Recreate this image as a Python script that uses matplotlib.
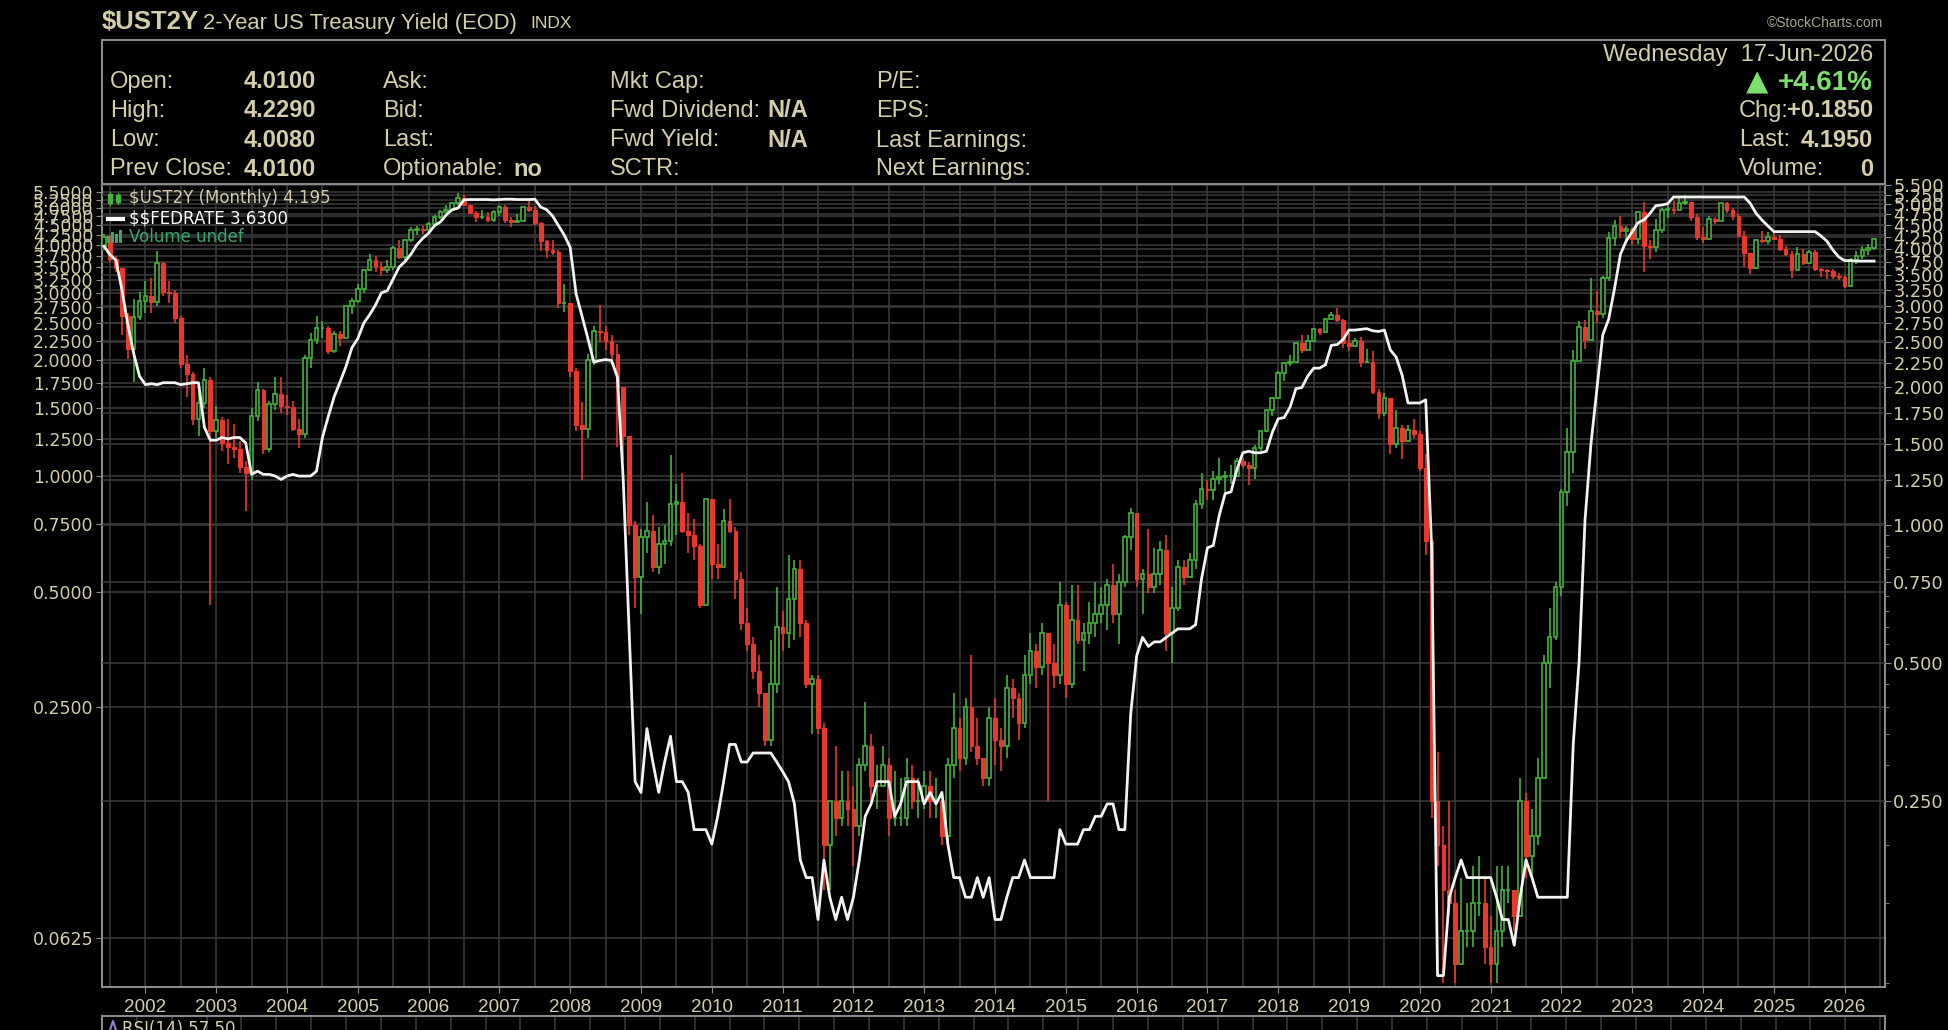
import numpy as np
import pandas as pd
import matplotlib
matplotlib.use("Agg")
import matplotlib.pyplot as plt
from matplotlib.patches import Rectangle
from matplotlib.lines import Line2D
from matplotlib.ticker import FixedLocator, NullLocator, NullFormatter

# ---- data: monthly $UST2Y candles and $$FEDRATE, Jun 2001 .. Jun 2026 ----
first_open = 4.05
ust_close = [
    4.24, 3.79, 3.63, 2.85, 2.42, 2.84, 3.07,                          # 2001 Jun-Dec
    3.16, 3.06, 3.72, 3.22, 3.21, 2.82, 2.24, 2.13, 1.70, 1.84, 2.07, 1.60,  # 2002
    1.69, 1.51, 1.48, 1.46, 1.34, 1.30, 1.73, 1.97, 1.46, 1.83, 1.93, 1.82,  # 2003
    1.81, 1.62, 1.58, 2.31, 2.53, 2.68, 2.69, 2.39, 2.61, 2.55, 3.00, 3.07,  # 2004
    3.27, 3.60, 3.78, 3.65, 3.59, 3.65, 4.02, 3.83, 4.18, 4.40, 4.42, 4.40,  # 2005
    4.54, 4.69, 4.82, 4.87, 5.03, 5.16, 4.97, 4.78, 4.69, 4.70, 4.62, 4.82,  # 2006
    4.93, 4.62, 4.58, 4.60, 4.92, 4.87, 4.56, 4.15, 3.97, 3.94, 3.05, 3.05,  # 2007
    2.16, 1.65, 1.62, 2.29, 2.65, 2.63, 2.52, 2.36, 2.00, 1.56, 1.00, 0.77,  # 2008
    0.94, 0.97, 0.81, 0.91, 0.92, 1.11, 1.12, 0.97, 0.95, 0.90, 0.67, 1.14,  # 2009
    0.82, 0.81, 1.02, 0.97, 0.76, 0.61, 0.55, 0.48, 0.43, 0.34, 0.45, 0.60,  # 2010
    0.58, 0.69, 0.80, 0.61, 0.45, 0.46, 0.36, 0.20, 0.25, 0.23, 0.25, 0.24,  # 2011
    0.22, 0.30, 0.33, 0.27, 0.27, 0.30, 0.23, 0.23, 0.23, 0.28, 0.25, 0.25,  # 2012
    0.27, 0.25, 0.25, 0.21, 0.30, 0.36, 0.31, 0.40, 0.33, 0.31, 0.28, 0.38,  # 2013
    0.34, 0.33, 0.44, 0.42, 0.37, 0.47, 0.53, 0.49, 0.58, 0.50, 0.47, 0.67,  # 2014
    0.45, 0.62, 0.56, 0.58, 0.61, 0.64, 0.67, 0.74, 0.64, 0.75, 0.94, 1.06,  # 2015
    0.76, 0.78, 0.73, 0.78, 0.88, 0.58, 0.66, 0.81, 0.77, 0.84, 1.11, 1.20,  # 2016
    1.19, 1.26, 1.27, 1.28, 1.28, 1.38, 1.35, 1.33, 1.47, 1.60, 1.78, 1.89,  # 2017
    2.14, 2.25, 2.27, 2.49, 2.40, 2.52, 2.67, 2.63, 2.81, 2.87, 2.80, 2.49,  # 2018
    2.46, 2.52, 2.27, 2.27, 1.95, 1.75, 1.89, 1.50, 1.63, 1.52, 1.61, 1.58,  # 2019
    1.33, 0.92, 0.25, 0.20, 0.16, 0.15, 0.11, 0.13, 0.13, 0.15, 0.15, 0.12,  # 2020
    0.11, 0.13, 0.16, 0.16, 0.14, 0.25, 0.19, 0.21, 0.28, 0.50, 0.57, 0.73,  # 2021
    1.18, 1.44, 2.28, 2.70, 2.53, 2.92, 2.88, 3.45, 4.22, 4.48, 4.38, 4.41,  # 2022
    4.21, 4.81, 4.06, 4.04, 4.40, 4.87, 4.88, 4.86, 5.03, 5.07, 4.68, 4.25,  # 2023
    4.21, 4.64, 4.59, 5.04, 4.87, 4.71, 4.26, 3.91, 3.64, 4.17, 4.15, 4.24,  # 2024
    4.20, 3.99, 3.89, 3.60, 3.90, 3.72, 3.94, 3.62, 3.60, 3.57, 3.49, 3.47,  # 2025
    3.32, 3.78, 3.86, 3.97, 4.01, 4.195,                               # 2026 Jan-Jun
]
ust_high = [
    4.30, 4.28, 3.86, 3.64, 2.90, 3.10, 3.22,
    3.40, 3.45, 3.95, 3.75, 3.40, 3.25, 2.85, 2.35, 2.15, 2.00, 2.20, 2.10,
    1.82, 1.72, 1.70, 1.66, 1.52, 1.38, 1.80, 2.05, 1.98, 1.86, 2.10, 2.10,
    1.92, 1.86, 1.70, 2.35, 2.62, 2.85, 2.78, 2.72, 2.65, 2.65, 3.00, 3.12,
    3.35, 3.62, 3.90, 3.85, 3.75, 3.78, 4.05, 4.18, 4.21, 4.45, 4.48, 4.48,
    4.58, 4.74, 4.85, 4.97, 5.05, 5.28, 5.23, 4.97, 4.83, 4.85, 4.80, 4.85,
    4.98, 4.97, 4.68, 4.75, 4.94, 5.12, 4.96, 4.58, 4.18, 4.18, 3.98, 3.35,
    3.05, 2.20, 1.85, 2.36, 2.72, 3.02, 2.71, 2.60, 2.48, 1.94, 1.56, 1.02,
    0.98, 1.12, 1.05, 0.99, 1.00, 1.42, 1.23, 1.30, 1.06, 1.03, 0.91, 1.14,
    1.14, 0.91, 1.08, 1.14, 0.99, 0.79, 0.66, 0.57, 0.52, 0.43, 0.56, 0.73,
    0.65, 0.86, 0.84, 0.84, 0.62, 0.47, 0.47, 0.37, 0.25, 0.33, 0.29, 0.29,
    0.27, 0.31, 0.41, 0.35, 0.30, 0.33, 0.31, 0.29, 0.28, 0.31, 0.30, 0.28,
    0.29, 0.29, 0.28, 0.25, 0.31, 0.43, 0.38, 0.42, 0.52, 0.38, 0.31, 0.40,
    0.42, 0.36, 0.47, 0.46, 0.43, 0.52, 0.58, 0.55, 0.61, 0.58, 0.55, 0.75,
    0.68, 0.74, 0.74, 0.61, 0.68, 0.75, 0.73, 0.76, 0.82, 0.78, 0.95, 1.09,
    1.06, 0.80, 0.98, 0.89, 0.92, 0.95, 0.73, 0.84, 0.84, 0.87, 1.13, 1.30,
    1.25, 1.31, 1.40, 1.31, 1.35, 1.40, 1.40, 1.37, 1.49, 1.61, 1.78, 1.90,
    2.16, 2.26, 2.35, 2.50, 2.59, 2.59, 2.69, 2.68, 2.83, 2.91, 2.97, 2.81,
    2.62, 2.56, 2.57, 2.42, 2.39, 1.98, 1.94, 1.89, 1.78, 1.65, 1.65, 1.70,
    1.60, 1.43, 0.93, 0.32, 0.22, 0.25, 0.16, 0.17, 0.15, 0.18, 0.19, 0.17,
    0.14, 0.18, 0.18, 0.18, 0.16, 0.28, 0.26, 0.24, 0.31, 0.52, 0.66, 0.75,
    1.20, 1.63, 2.40, 2.78, 2.80, 3.45, 3.23, 3.49, 4.34, 4.62, 4.72, 4.48,
    4.47, 4.83, 5.07, 4.17, 4.64, 4.90, 4.99, 5.08, 5.15, 5.23, 5.07, 4.75,
    4.45, 4.72, 4.70, 5.04, 5.05, 4.90, 4.76, 4.38, 3.87, 4.19, 4.37, 4.36,
    4.37, 4.28, 4.06, 3.96, 4.04, 4.00, 3.97, 3.98, 3.64, 3.62, 3.62, 3.54,
    3.50, 3.82, 3.95, 4.05, 4.10, 4.229,
]
ust_low = [
    3.98, 3.75, 3.55, 2.60, 2.30, 2.05, 2.80,
    2.90, 2.90, 3.00, 3.15, 3.05, 2.75, 2.20, 1.90, 1.65, 1.56, 1.80, 0.67,
    1.55, 1.45, 1.36, 1.40, 1.30, 1.07, 1.25, 1.68, 1.43, 1.44, 1.78, 1.75,
    1.74, 1.60, 1.47, 1.55, 2.20, 2.48, 2.55, 2.36, 2.37, 2.45, 2.55, 2.88,
    3.05, 3.20, 3.58, 3.56, 3.48, 3.54, 3.60, 3.80, 3.77, 4.13, 4.29, 4.30,
    4.34, 4.52, 4.64, 4.81, 4.85, 4.99, 4.95, 4.76, 4.58, 4.65, 4.58, 4.58,
    4.72, 4.56, 4.47, 4.56, 4.57, 4.80, 4.51, 3.95, 3.81, 3.88, 2.97, 2.91,
    2.10, 1.60, 1.25, 1.55, 2.23, 2.50, 2.40, 2.30, 1.48, 1.38, 0.95, 0.66,
    0.64, 0.87, 0.79, 0.78, 0.82, 0.90, 0.95, 0.96, 0.87, 0.84, 0.66, 0.67,
    0.76, 0.76, 0.81, 0.96, 0.69, 0.59, 0.53, 0.46, 0.40, 0.33, 0.33, 0.43,
    0.53, 0.54, 0.56, 0.57, 0.44, 0.35, 0.35, 0.16, 0.16, 0.21, 0.22, 0.22,
    0.18, 0.21, 0.29, 0.25, 0.24, 0.27, 0.21, 0.22, 0.22, 0.22, 0.24, 0.23,
    0.24, 0.23, 0.23, 0.20, 0.20, 0.28, 0.29, 0.30, 0.32, 0.30, 0.27, 0.27,
    0.30, 0.29, 0.31, 0.38, 0.34, 0.36, 0.45, 0.44, 0.47, 0.25, 0.44, 0.45,
    0.42, 0.44, 0.55, 0.48, 0.55, 0.57, 0.61, 0.59, 0.61, 0.55, 0.73, 0.88,
    0.73, 0.64, 0.71, 0.71, 0.74, 0.53, 0.50, 0.65, 0.74, 0.77, 0.80, 1.08,
    1.13, 1.13, 1.23, 1.16, 1.23, 1.27, 1.33, 1.22, 1.26, 1.45, 1.59, 1.73,
    1.88, 2.06, 2.22, 2.26, 2.37, 2.42, 2.52, 2.59, 2.62, 2.79, 2.77, 2.43,
    2.39, 2.44, 2.21, 2.25, 1.93, 1.70, 1.73, 1.43, 1.47, 1.39, 1.53, 1.55,
    1.31, 0.86, 0.23, 0.18, 0.10, 0.14, 0.10, 0.11, 0.12, 0.12, 0.14, 0.11,
    0.10, 0.10, 0.12, 0.15, 0.13, 0.14, 0.17, 0.17, 0.20, 0.28, 0.44, 0.56,
    0.70, 1.10, 1.30, 2.32, 2.42, 2.53, 2.75, 2.83, 3.41, 4.05, 4.23, 4.12,
    4.07, 4.09, 3.55, 3.80, 3.94, 4.33, 4.66, 4.76, 4.85, 4.98, 4.59, 4.18,
    4.11, 4.20, 4.52, 4.59, 4.78, 4.63, 4.24, 3.65, 3.53, 3.62, 4.11, 4.10,
    4.19, 3.95, 3.85, 3.46, 3.59, 3.69, 3.71, 3.58, 3.47, 3.44, 3.43, 3.42,
    3.28, 3.30, 3.70, 3.80, 3.88, 3.98,
]
fed_rate = [
    3.97, 3.77, 3.65, 3.07, 2.49, 2.09, 1.82,
    1.73, 1.74, 1.73, 1.75, 1.75, 1.75, 1.73, 1.74, 1.75, 1.75, 1.34, 1.24,
    1.24, 1.26, 1.25, 1.26, 1.26, 1.22, 1.01, 1.03, 1.01, 1.01, 1.00, 0.98,
    1.00, 1.01, 1.00, 1.00, 1.00, 1.03, 1.26, 1.43, 1.61, 1.76, 1.93, 2.16,
    2.28, 2.50, 2.63, 2.79, 3.00, 3.04, 3.26, 3.50, 3.62, 3.78, 4.00, 4.16,
    4.29, 4.49, 4.59, 4.79, 4.94, 4.99, 5.24, 5.25, 5.25, 5.25, 5.25, 5.24,
    5.25, 5.26, 5.26, 5.25, 5.25, 5.25, 5.26, 5.02, 4.94, 4.76, 4.49, 4.24,
    3.94, 2.98, 2.61, 2.28, 1.98, 2.00, 2.01, 2.00, 1.81, 0.97, 0.39, 0.16,
    0.15, 0.22, 0.18, 0.15, 0.18, 0.21, 0.16, 0.16, 0.15, 0.12, 0.12, 0.12,
    0.11, 0.13, 0.16, 0.20, 0.20, 0.18, 0.18, 0.19, 0.19, 0.19, 0.19, 0.18,
    0.17, 0.16, 0.14, 0.10, 0.09, 0.09, 0.07, 0.10, 0.08, 0.07, 0.08, 0.07,
    0.08, 0.10, 0.13, 0.14, 0.16, 0.16, 0.16, 0.13, 0.14, 0.16, 0.16, 0.16,
    0.14, 0.15, 0.14, 0.15, 0.11, 0.09, 0.09, 0.08, 0.08, 0.09, 0.08, 0.09,
    0.07, 0.07, 0.08, 0.09, 0.09, 0.10, 0.09, 0.09, 0.09, 0.09, 0.09, 0.12,
    0.11, 0.11, 0.11, 0.12, 0.12, 0.13, 0.13, 0.14, 0.14, 0.12, 0.12, 0.24,
    0.34, 0.38, 0.36, 0.37, 0.37, 0.38, 0.39, 0.40, 0.40, 0.40, 0.41, 0.54,
    0.65, 0.66, 0.79, 0.90, 0.91, 1.04, 1.15, 1.16, 1.15, 1.15, 1.16, 1.30,
    1.41, 1.42, 1.51, 1.69, 1.70, 1.82, 1.91, 1.91, 1.95, 2.19, 2.20, 2.27,
    2.40, 2.40, 2.41, 2.42, 2.39, 2.38, 2.40, 2.13, 2.04, 1.83, 1.55, 1.55,
    1.55, 1.58, 0.65, 0.05, 0.05, 0.08, 0.09, 0.10, 0.09, 0.09, 0.09, 0.09,
    0.09, 0.08, 0.07, 0.07, 0.06, 0.08, 0.10, 0.09, 0.08, 0.08, 0.08, 0.08,
    0.08, 0.08, 0.20, 0.33, 0.77, 1.21, 1.68, 2.33, 2.56, 3.08, 3.78, 4.10,
    4.33, 4.57, 4.65, 4.83, 5.06, 5.08, 5.12, 5.33, 5.33, 5.33, 5.33, 5.33,
    5.33, 5.33, 5.33, 5.33, 5.33, 5.33, 5.33, 5.33, 5.13, 4.83, 4.64, 4.48,
    4.33, 4.33, 4.33, 4.33, 4.33, 4.33, 4.33, 4.33, 4.22, 4.09, 3.88, 3.72,
    3.64, 3.64, 3.63, 3.63, 3.63, 3.63,
]

left_ticks = [5.5, 5.25, 5.0, 4.75, 4.5, 4.25, 4.0, 3.75, 3.5, 3.25, 3.0, 2.75,
              2.5, 2.25, 2.0, 1.75, 1.5, 1.25, 1.0, 0.75, 0.5, 0.25, 0.0625]
right_ticks = [5.5, 5.25, 5.0, 4.75, 4.5, 4.25, 4.0, 3.75, 3.5, 3.25, 3.0, 2.75,
               2.5, 2.25, 2.0, 1.75, 1.5, 1.25, 1.0, 0.75, 0.5, 0.25]
year_ticks = list(range(2002, 2027))

# ---- colours / fonts ----
TAN = '#d3cea9'
GRID = '#3b3b3b'
FRAME = '#8a8a8a'
GREEN = '#46b13c'
RED = '#e8392c'
SANS = ['Liberation Sans', 'DejaVu Sans']
WIDE = ['DejaVu Sans']

W, H = 1949.0, 1030.0
fig = plt.figure(figsize=(W / 100, H / 100), dpi=100, facecolor='black')


def fx(x):
    return x / W


def fy(y):
    return 1 - y / H


def txt(x, y, s, size=17, color=TAN, weight='normal', ha='left', family=SANS):
    fig.text(fx(x), fy(y), s, fontsize=size, color=color, fontweight=weight,
             ha=ha, va='center', family=family, parse_math=False)


L, R, T, B = 102, 1885, 183.5, 987
rect = [fx(L), fy(B), (R - L) / W, (B - T) / H]
x0, x1 = 2001.387, 2026.57

months = pd.date_range('2001-06-01', periods=len(ust_close), freq='MS')
xs = np.array([d.year + (d.month - 1) / 12 for d in months])
c = np.array(ust_close)
o = np.array([first_open] + ust_close[:-1])
hi = np.array(ust_high)
lo = np.array(ust_low)

# base axes: grid + left (FEDRATE) scale
ax = fig.add_axes(rect)
ax.set_facecolor('black')
ax.set_yscale('log')
ax.set_ylim(0.0467, 5.78)
ax.set_xlim(x0, x1)
ax.yaxis.set_major_locator(FixedLocator(left_ticks))
ax.yaxis.set_minor_locator(NullLocator())
ax.set_yticklabels(['%.4f' % v for v in left_ticks])
ax.set_xticks(year_ticks)
ax.set_xticklabels([str(y) for y in year_ticks])
ax.set_xticks([y + 0.5 for y in range(2001, 2027)], minor=True)
ax.grid(True, which='both', color=GRID, lw=1.1)
ax.set_axisbelow(True)
ax.tick_params(axis='y', colors=FRAME, labelcolor=TAN, labelsize=12.5, length=4, pad=2)
ax.tick_params(axis='x', which='major', colors=FRAME, labelcolor=TAN, labelsize=13.6,
               length=4, pad=5)
ax.tick_params(axis='x', which='minor', length=0)
for lab in ax.get_yticklabels():
    lab.set_family(WIDE)
for lab in ax.get_xticklabels():
    lab.set_family(SANS)
for sp in ax.spines.values():
    sp.set_color(FRAME)
    sp.set_linewidth(1.5)

# candles on right scale
axc = ax.twinx()
axc.set_yscale('log')
axc.set_ylim(0.0982, 5.55)
axc.set_xlim(x0, x1)
axc.yaxis.set_major_locator(FixedLocator(right_ticks))
axc.yaxis.set_minor_locator(FixedLocator([0.1, 0.15, 0.2, 0.3, 0.35, 0.4, 0.45, 0.55, 0.6,
                                          0.65, 0.7, 0.8, 0.85, 0.9, 0.95]))
axc.yaxis.set_minor_formatter(NullFormatter())
axc.set_yticklabels(['%.3f' % v for v in right_ticks])
axc.tick_params(axis='y', which='major', colors=FRAME, labelcolor=TAN, labelsize=12.8,
                length=4, pad=2)
axc.tick_params(axis='y', which='minor', colors=FRAME, length=3)
axc.grid(True, axis='y', which='major', color=GRID, lw=1.1)
axc.set_axisbelow(True)
for lab in axc.get_yticklabels():
    lab.set_family(WIDE)
for sp in axc.spines.values():
    sp.set_visible(False)

up = c >= o
bw = 0.052
axc.vlines(xs[up], lo[up], hi[up], color=GREEN, lw=1.2, zorder=2)
axc.vlines(xs[~up], lo[~up], hi[~up], color=RED, lw=1.2, zorder=2)
bot = np.minimum(o, c)
top = np.maximum(o, c)
axc.bar(xs[up], top[up] - bot[up], bottom=bot[up], width=bw, facecolor='black',
        edgecolor=GREEN, lw=1.2, zorder=3)
axc.bar(xs[~up], top[~up] - bot[~up], bottom=bot[~up], width=bw, facecolor=RED,
        edgecolor=RED, lw=0.8, zorder=3)

# FEDRATE line on left scale, on top
axw = ax.twinx()
axw.set_yscale('log')
axw.set_ylim(0.0467, 5.78)
axw.set_xlim(x0, x1)
axw.axis('off')
axw.plot(xs, fed_rate, color='#f2f2f2', lw=2.0, solid_joinstyle='round', zorder=4)

# ---- header ----
fig.add_artist(Rectangle((fx(L), fy(T)), (R - L) / W, (T - 40) / H, transform=fig.transFigure,
                         fill=False, edgecolor=FRAME, lw=1.5))
txt(102, 22, '$UST2Y', size=18.5, weight='bold')
txt(203, 23, '2-Year US Treasury Yield (EOD)', size=15.8)
txt(530, 24, 'INDX', size=12.5)
txt(1883, 23, '\u00a9StockCharts.com', size=10, color='#a9a690', ha='right')

rows = [82, 110.6, 140.5, 169]
for y, lab in zip(rows, ['Open:', 'High:', 'Low:', 'Prev Close:']):
    txt(110, y, lab)
for y, val in zip(rows, ['4.0100', '4.2290', '4.0080', '4.0100']):
    txt(316, y, val, weight='bold', ha='right')
for y, lab in zip(rows, ['Ask:', 'Bid:', 'Last:', 'Optionable:']):
    txt(383, y, lab)
txt(513, rows[3], 'no', weight='bold')
for y, lab in zip(rows, ['Mkt Cap:', 'Fwd Dividend:', 'Fwd Yield:', 'SCTR:']):
    txt(610, y, lab)
txt(808, rows[1], 'N/A', weight='bold', ha='right')
txt(808, rows[2], 'N/A', weight='bold', ha='right')
for y, lab in zip(rows, ['P/E:', 'EPS:', 'Last Earnings:', 'Next Earnings:']):
    txt(876, y, lab)

txt(1873, 55, 'Wednesday  17-Jun-2026', ha='right')
txt(1873, 83, '+4.61%', size=20, weight='bold', color='#7ddf6e', ha='right')
txt(1757, 82, '\u25b2', size=21, color='#7ddf6e', ha='center', family=WIDE)
txt(1739, rows[1], 'Chg:')
txt(1873, rows[1], '+0.1850', weight='bold', ha='right')
txt(1739, rows[2], 'Last:')
txt(1873, rows[2], '4.1950', weight='bold', ha='right')
txt(1739, rows[3], 'Volume:')
txt(1873, rows[3], '0', weight='bold', ha='right')

# ---- in-chart legend ----
ly = [198, 219, 237]
for bx, h in [(110, 9), (118, 7)]:
    fig.add_artist(Line2D([fx(bx), fx(bx)], [fy(ly[0] - h / 2 - 2), fy(ly[0] + h / 2 + 2)],
                          transform=fig.transFigure, color=GREEN, lw=1))
    fig.add_artist(Rectangle((fx(bx - 2), fy(ly[0] + h / 2)), 4 / W, h / H,
                             transform=fig.transFigure, facecolor=GREEN, edgecolor=GREEN))
txt(129, ly[0], '$UST2Y (Monthly) 4.195', size=12, family=WIDE)
fig.add_artist(Line2D([fx(108), fx(123)], [fy(ly[1]), fy(ly[1])], transform=fig.transFigure,
                      color='white', lw=3))
txt(129, ly[1], '$$FEDRATE 3.6300', size=12, color='white', family=WIDE)
for bx, h in [(109, 7), (113, 11), (117, 9), (121, 13)]:
    fig.add_artist(Rectangle((fx(bx - 1.5), fy(ly[2] + 6)), 3 / W, h / H,
                             transform=fig.transFigure, facecolor='#3aa66e', edgecolor='none'))
txt(129, ly[2], 'Volume undef', size=12, color='#3aa66e', family=WIDE)

# ---- RSI panel (cut off at bottom) ----
axr = fig.add_axes([fx(L), fy(1070), (R - L) / W, (1070 - 1016) / H])
axr.set_facecolor('black')
axr.set_xlim(x0, x1)
axr.set_ylim(0, 1)
axr.set_xticks([y + 0.5 * k for y in range(2001, 2027) for k in (0, 1)])
axr.set_yticks([])
axr.tick_params(length=0, labelbottom=False)
axr.grid(True, axis='x', color=GRID, lw=1.1)
for sp in axr.spines.values():
    sp.set_color(FRAME)
    sp.set_linewidth(1.5)
fig.add_artist(Line2D([fx(110), fx(113), fx(116)], [fy(1030), fy(1021), fy(1030)],
                      transform=fig.transFigure, color='#9a7fd0', lw=1.5))
txt(122, 1029, 'RSI(14) 57.50', size=12, family=WIDE)

fig.savefig('out.png', dpi=100, facecolor='black')
